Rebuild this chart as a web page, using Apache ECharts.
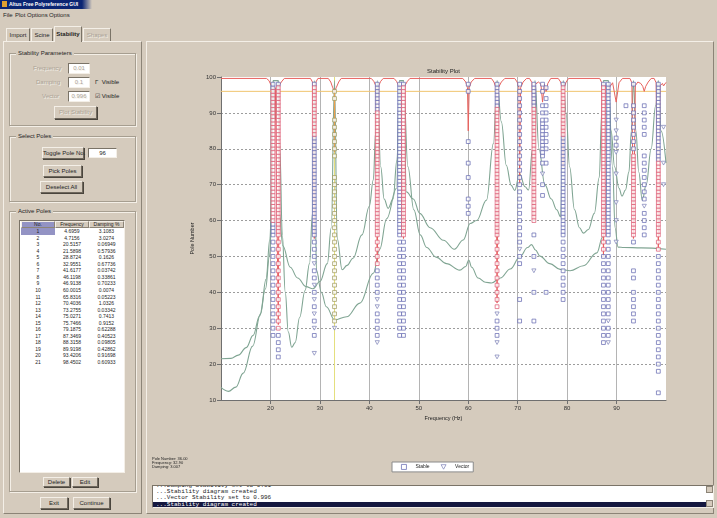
<!DOCTYPE html>
<html>
<head>
<meta charset="utf-8">
<title>Stability Plot</title>
<script src="https://cdn.jsdelivr.net/npm/echarts@6.0.0/dist/echarts.min.js"></script>
<style>
  html, body { margin: 0; padding: 0; }
  body { width: 717px; height: 518px; background: #d5cbbd; position: relative; overflow: hidden;
         font-family: "Liberation Sans", Arial, sans-serif; font-size: 6px; color: #1e1e1e; }
  .ab { position: absolute; white-space: nowrap; }
  .raised { position: absolute; box-sizing: border-box; border: 1px solid; border-color: #f4efe7 #8c8477 #8c8477 #f4efe7; }
  .etch { position: absolute; box-sizing: border-box; border: 1px solid #a69e90; box-shadow: inset 1px 1px 0 #f4efe7, 1px 1px 0 #f4efe7; }
  .etch .lbl { position: absolute; top: -4px; left: 6px; padding: 0 2px; background: #d5cbbd; line-height: 7px; }
  .btn { position: absolute; box-sizing: border-box; border: 1px solid; border-color: #f4efe7 #6f685d #6f685d #f4efe7;
         box-shadow: 1px 1px 0 #4a453d; text-align: center; white-space: nowrap; }
  .inp { position: absolute; box-sizing: border-box; background: #fff; border: 1px solid;
         border-color: #7a7367 #f4efe7 #f4efe7 #7a7367; text-align: center; }
  .dis { color: #aaa295; text-shadow: 1px 1px 0 #f4efe7; }
  .tab { position: absolute; box-sizing: border-box; border: 1px solid; border-bottom: none;
         border-color: #f4efe7 #7a7367 #7a7367 #f4efe7; text-align: center; }
  #chart { position: absolute; left: 0; top: 0; width: 717px; height: 518px; z-index: 2; }
  #log { position: absolute; left: 152px; top: 485px; width: 562px; height: 23px; background: #fff; z-index: 3;
         box-sizing: border-box; border: 1px solid; border-color: #7a7367 #f4efe7 #f4efe7 #7a7367; overflow: hidden;
         font-family: "Liberation Mono", "DejaVu Sans Mono", monospace; font-size: 6px; line-height: 6.2px; }
  #log div { padding-left: 3px; white-space: pre; }
  #log .sel { background: #15183f; color: #fff; }
  .row { position: absolute; font-size: 5px; line-height: 6.5px; text-align: center; }
</style>
</head>
<body>
<!-- window title + menu -->
<div class="ab" style="left:0;top:0;width:717px;height:9px;background:linear-gradient(90deg,#0b2573 0,#0b2573 82px,#d5cbbd 92px)"></div>
<div class="ab" style="left:2px;top:1px;width:5px;height:6px;background:#e0a030"></div>
<div class="ab" style="left:9px;top:1px;color:#fff;font-weight:bold;font-size:5px;line-height:7px">Altus Free Polyreference GUI</div>
<div class="ab" style="left:3px;top:12px;line-height:7px">File</div>
<div class="ab" style="left:15px;top:12px;line-height:7px">Plot Options</div>
<div class="ab" style="left:49px;top:12px;line-height:7px">Options</div>

<!-- tabs -->
<div class="tab" style="left:6px;top:28px;width:24px;height:13px;line-height:12px">Import</div>
<div class="tab" style="left:31px;top:28px;width:22px;height:13px;line-height:12px">Scine</div>
<div class="tab" style="left:54px;top:26px;width:28px;height:16px;line-height:14px;font-weight:bold;background:#d5cbbd;z-index:1">Stability</div>
<div class="tab dis" style="left:83px;top:28px;width:28px;height:13px;line-height:12px">Shapes</div>

<!-- panels -->
<div class="raised" style="left:3px;top:41px;width:139px;height:473px"></div>
<div class="raised" style="left:146px;top:41px;width:568px;height:473px"></div>

<!-- Stability Parameters -->
<div class="etch" style="left:9px;top:53px;width:127px;height:73px"><span class="lbl">Stability Parameters</span></div>
<div class="ab dis" style="left:33px;top:65px;line-height:7px">Frequency</div>
<div class="inp dis" style="left:68px;top:63px;width:22px;height:11px;line-height:9px">0.01</div>
<div class="ab dis" style="left:36px;top:79px;line-height:7px">Damping</div>
<div class="inp dis" style="left:68px;top:77px;width:22px;height:11px;line-height:9px">0.1</div>
<div class="ab" style="left:95px;top:79px;line-height:7px">&#915;&nbsp; Visible</div>
<div class="ab dis" style="left:42px;top:93px;line-height:7px">Vector</div>
<div class="inp dis" style="left:68px;top:91px;width:22px;height:11px;line-height:9px">0.996</div>
<div class="ab" style="left:95px;top:93px;line-height:7px">&#9745; Visible</div>
<div class="btn dis" style="left:54px;top:106px;width:43px;height:13px;line-height:11px">Plot Stability</div>

<!-- Select Poles -->
<div class="etch" style="left:9px;top:136px;width:127px;height:66px"><span class="lbl">Select Poles</span></div>
<div class="btn" style="left:42px;top:147px;width:42px;height:12px;line-height:10px">Toggle Pole No.</div>
<div class="inp" style="left:88px;top:148px;width:29px;height:10px;line-height:8px">96</div>
<div class="btn" style="left:43px;top:165px;width:39px;height:12px;line-height:10px">Pick Poles</div>
<div class="btn" style="left:40px;top:181px;width:43px;height:12px;line-height:10px">Deselect All</div>

<!-- Active Poles -->
<div class="etch" style="left:9px;top:211px;width:127px;height:281px"><span class="lbl">Active Poles</span></div>
<div class="ab" style="left:19px;top:220px;width:106px;height:253px;background:#fff;box-sizing:border-box;border:1px solid;border-color:#7a7367 #f4efe7 #f4efe7 #7a7367"></div>
<div id="poleRows"></div>
<div class="btn" style="left:43px;top:477px;width:27px;height:10px;line-height:8px">Delete</div>
<div class="btn" style="left:72px;top:477px;width:26px;height:10px;line-height:8px">Edit</div>
<div class="btn" style="left:40px;top:497px;width:28px;height:12px;line-height:10px">Exit</div>
<div class="btn" style="left:73px;top:497px;width:37px;height:12px;line-height:10px">Continue</div>

<div id="chart"></div>

<!-- message log -->
<div id="log">
  <div style="margin-top:-3px">...Damping Stability set to 0.01</div>
  <div>...Stability diagram created</div>
  <div>...Vector Stability set to 0.996</div>
  <div class="sel">...Stability diagram created</div>
</div>
<div class="ab" style="left:706px;top:486px;width:7px;height:7px;background:#d5cbbd;z-index:4;border:1px solid #8c8477;box-sizing:border-box"></div>
<div class="ab" style="left:706px;top:500px;width:7px;height:7px;background:#d5cbbd;z-index:4;border:1px solid #8c8477;box-sizing:border-box"></div>

<script>
// ---------------- values ----------------
// Active Poles table
var poleFreq = ['4.6959', '4.7156', '20.5157', '21.5898', '28.8724', '32.9551', '41.6177',
  '46.1198', '46.9138', '60.0015', '65.8316', '70.4036', '73.2755', '75.0271', '75.7466',
  '79.1875', '87.3469', '88.3158', '89.9198', '93.4206', '98.4502'];
var poleDamp = ['3.1083', '3.0274', '0.06949', '0.57936', '0.1626', '0.67736', '0.03742',
  '0.33861', '0.70233', '0.0074', '0.05223', '1.0326', '0.03342', '0.7413', '0.9152',
  '0.62288', '0.40523', '0.09805', '0.42862', '0.91698', '0.60933'];

// stabilization columns (Hz)
var colFreq = [20.52, 21.59, 28.87, 32.96, 41.6, 46.12, 46.91, 60.0, 65.83, 70.4, 73.28,
  75.03, 75.75, 79.19, 87.35, 88.32, 89.92, 91.9, 93.42, 95.6, 98.45, 99.5];
// stable model orders per column: single orders, or runs [from, to, step]
var stableMarks = [
  [[56, 98], [28, 54, 2]],
  [[56, 98], [22, 54, 2]],
  [[56, 98], [50, 54, 2], [44, 46, 2], 40, 36, 32, 28],
  [96, 94, [78, 88, 2], [32, 72, 2]],
  [[56, 98], [40, 54, 2], [28, 34, 2]],
  [[56, 98], [28, 54, 2]],
  [[56, 98], [28, 54, 2]],
  [98, 96, 82, 76, 72, 66, 64, 62],
  [[56, 98], [36, 54, 2], 32, 30, 28],
  [[54, 98, 2], 50, 48, 38, 32],
  [[60, 98], 56, 50, 40, 32],
  [98, 96, 92, 90, [78, 88], 76, 70, 67],
  [97, [80, 94, 2], 76, 40],
  [[56, 98], [38, 54, 2]],
  [[56, 98], [26, 54, 2]],
  [[56, 98], [34, 54, 2], 30, 28],
  [83, 81],
  [92],
  [98, [80, 92, 2], [56, 78], 54, 46, 44, [32, 40, 2]],
  [92, 90, 88, 86, 84, [66, 78, 2], 62, 60, 58, 56],
  [[56, 98], [18, 54, 2], 12],
  []
];
// band of orders drawn in red (stable in frequency and damping)
var redBand = [[60, 96], [30, 97], [84, 97], null, [48, 90], null, [56, 97], null, [36, 91], null,
  [60, 91], null, null, [84, 97], [52, 97], null, null, null, [56, 78], null, [52, 76], null];
// vector-stable orders (triangles)
var vectorMarks = [[], [], [48, 42, 38, 34, 30, 23], [30], [38, 36, 26], [], [], [],
  [34, 26, 22], [52], [46], [73], [], [], [], [32, 26], [88, 85, 79, 73, 65, 60, 54], [], [],
  [64], [], [86, 76, 70]];
var selCol = 3;
var selSpan = [79, 96];
var refLevel = 96;

// red indicator curve
var redCurve = [
  [10, 99.6], [19.2, 99.6], [19.7, 99], [20.1, 97.8], [20.5, 97.2], [21.0, 97], [21.4, 97.4], [21.59, 31], [21.8, 97.6], [22.2, 98.6], [22.8, 99.6],
  [28.1, 99.6], [28.5, 98.6], [28.87, 55], [29.2, 98.6], [29.6, 99.6],
  [31.7, 99.6], [32.2, 98.6], [32.6, 97], [32.96, 96], [33.3, 97], [33.8, 98.6], [34.3, 99.6],
  [40.4, 99.6], [40.9, 98.8], [41.3, 97.6], [41.6, 48], [41.9, 97.6], [42.3, 98.8], [42.8, 99.6],
  [45.0, 99.6], [45.5, 98.8], [45.9, 97.6], [46.3, 97], [46.7, 97.4], [46.91, 55], [47.2, 97.6], [47.7, 98.8], [48.2, 99.6],
  [58.9, 99.6], [59.5, 98.6], [59.85, 97], [60.0, 85], [60.2, 97], [60.6, 98.6], [61.3, 99.6],
  [64.7, 99.6], [65.2, 98.6], [65.6, 97], [65.83, 37], [66.1, 97], [66.7, 98.6], [67.4, 99.6],
  [69.4, 99.6], [69.9, 98.6], [70.25, 97], [70.4, 70], [70.6, 97], [71.1, 98.6], [71.8, 99.6],
  [72.4, 99.6], [72.9, 98.4], [73.28, 60.5], [73.6, 98], [74.2, 98.6], [74.7, 98], [75.03, 93], [75.4, 98], [75.75, 96], [76.1, 98.2], [76.7, 99.6],
  [78.2, 99.6], [78.7, 98.6], [79.0, 97], [79.19, 75], [79.4, 97], [79.8, 98.6], [80.3, 99.6],
  [86.6, 99.6], [87.0, 98.4], [87.35, 50], [87.7, 97.6], [88.0, 97.2], [88.32, 96], [88.7, 97.4], [89.2, 98.4], [89.92, 93], [90.5, 98.4], [91.2, 99.6],
  [92.7, 99.6], [93.1, 98.4], [93.42, 55], [93.8, 97.6], [94.3, 98.6], [94.9, 98.2], [95.3, 97.4], [95.6, 96], [95.9, 97.4], [96.4, 98.6], [97.0, 99.6],
  [97.6, 99.6], [98.0, 98.4], [98.45, 52], [98.8, 97.6], [99.3, 98.2], [99.5, 97.5], [100, 98.5]
];

// green indicator curves
var greenCurve1 = [
  [10, 13.5], [11.5, 12.4], [13, 13.6], [14.5, 17.5], [16.4, 25], [18, 34], [19.1, 43.6], [19.9, 55], [20.3, 70], [20.52, 99],
  [21.0, 88], [21.59, 99], [21.9, 80], [22.4, 56], [23, 40], [23.6, 29], [24.3, 24.7], [25, 26], [25.9, 33], [27, 40.5], [27.9, 48], [28.5, 62], [28.87, 99],
  [29.1, 60], [29.3, 46.2], [30.3, 40], [31.3, 36], [33, 32.3], [35.4, 33.2], [38.1, 37], [40.8, 45.3], [42.1, 52], [43.5, 60.5], [45.5, 69], [46.12, 99],
  [46.91, 99], [47.5, 68], [48.9, 66], [50.2, 62], [52.3, 58], [55, 54.5], [57.2, 52], [59, 54.6], [60.4, 59.2], [61.7, 60], [63.7, 65.7], [65.1, 81.5], [65.83, 99],
  [66.7, 87.5], [67.7, 75.4], [68.7, 69.8], [69.4, 68.4], [70.4, 73], [71.5, 69.4], [72.2, 68.5], [73, 80], [73.5, 99],
  [74.3, 80], [75.5, 70], [76.8, 66], [77.9, 63], [78.7, 61], [79.19, 99],
  [79.8, 90], [80.5, 75], [81.5, 63], [82.5, 58], [83.3, 56.5], [84.3, 57.5], [85.5, 62], [86.5, 72], [87.0, 90], [87.35, 99],
  [88.32, 99], [88.9, 85], [89.6, 75], [90.5, 69], [91.1, 66.8], [91.8, 68.5], [92.5, 73.5], [93.0, 85], [93.42, 99],
  [93.9, 85], [94.5, 73.5], [95.2, 65.6], [96.0, 70], [97.0, 80], [97.9, 92], [98.45, 99], [99.0, 85], [100, 76]
];
var greenCurve2 = [
  [10, 21.5], [12, 21.6], [13.5, 22.5], [15.1, 24.6], [16.5, 28], [17.8, 33.4], [19, 41], [19.8, 50], [20.3, 62], [20.52, 99],
  [21.59, 99], [21.8, 62], [22.5, 53], [24, 47], [25.5, 44], [27.2, 41.6], [28.6, 41], [30, 43], [31.5, 48], [32.3, 58], [32.96, 99],
  [33.5, 55], [34.5, 46.3], [35.5, 47.5], [36.7, 49.5], [38.5, 56], [40, 64], [40.8, 71.3], [41.3, 85], [41.6, 99],
  [42.3, 75], [43, 66], [43.8, 63.4], [44.8, 66], [45.6, 77], [46.12, 99],
  [46.91, 99], [47.8, 75], [49, 63], [50.3, 56], [51.6, 52.5], [53.5, 49.8], [55.6, 48], [58.3, 46.2], [59.5, 47.2], [60.1, 49], [60.7, 47],
  [62, 44], [63.5, 42.8], [64.7, 42.6], [66.5, 44], [68.5, 46.5], [70.5, 50], [72, 52.5], [72.8, 53.3], [73.6, 51.8], [74.5, 50.1],
  [76.5, 48], [78.6, 46.4], [80.6, 46], [83.3, 47.4], [86, 51], [87.2, 55.5], [87.8, 62], [88.32, 99],
  [89.2, 75], [89.7, 58], [90.3, 52.6], [91.5, 52.5], [95, 52.4], [100, 52]
];

// ---------------- build point lists ----------------
function expand(list) {
  var out = [];
  list.forEach(function (m) {
    if (typeof m === 'number') { out.push(m); return; }
    var step = m[2] || 1;
    for (var o = m[0]; o <= m[1]; o += step) out.push(o);
  });
  return out;
}

var stablePts = [], redPts = [], selPts = [], vectorPts = [];
colFreq.forEach(function (f, i) {
  var band = redBand[i];
  expand(stableMarks[i]).forEach(function (o) {
    if (i === selCol) selPts.push([f, o]);
    else if (band && o >= band[0] && o <= band[1]) redPts.push([f, o]);
    else stablePts.push([f, o]);
  });
  vectorMarks[i].forEach(function (o) { vectorPts.push([f, o]); });
});
var selFreq = colFreq[selCol];

// ---------------- pole table ----------------
var rowsDiv = document.getElementById('poleRows');
function cell(x, y, w, h, txt, style) {
  var d = document.createElement('div');
  d.className = 'row';
  d.style.cssText = 'left:' + x + 'px;top:' + y + 'px;width:' + w + 'px;height:' + h + 'px;' + (style || '');
  d.textContent = txt;
  rowsDiv.appendChild(d);
}
var hdr = 'background:#d5cbbd;box-sizing:border-box;border:1px solid;border-color:#f4efe7 #8c8477 #8c8477 #f4efe7;line-height:5px;';
cell(21, 221, 34, 7, 'No.', hdr + 'background:#9393c4;');
cell(55, 221, 34, 7, 'Frequency', hdr);
cell(89, 221, 35, 7, 'Damping %', hdr);
poleFreq.forEach(function (f, i) {
  var y = 228 + i * 6.55;
  cell(21, y, 34, 6.5, String(i + 1), i === 0 ? 'background:#9393c4;' : '');
  cell(55, y, 34, 6.5, f);
  cell(89, y, 35, 6.5, poleDamp[i]);
});

// ---------------- chart ----------------
var myChart = echarts.init(document.getElementById('chart'));
var markStyle = function (c) { return { color: '#fff', borderColor: c, borderWidth: 0.9 }; };
var downTri = 'path://M0,0L10,0L5,9Z';
var option = {
  animation: false,
  backgroundColor: 'transparent',
  textStyle: { fontFamily: 'Liberation Sans, Arial, sans-serif' },
  graphic: [
    { type: 'text', x: 443.5, y: 71, style: { text: 'Stability Plot', fontSize: 6, fill: '#222', align: 'center', verticalAlign: 'middle' } },
    { type: 'text', x: 152, y: 457, style: { text: 'Pole Number: 36.00', fontSize: 4, fill: '#222' } },
    { type: 'text', x: 152, y: 461, style: { text: 'Frequency: 32.90', fontSize: 4, fill: '#222' } },
    { type: 'text', x: 152, y: 465, style: { text: 'Damping: 3.007', fontSize: 4, fill: '#222' } }
  ],
  legend: {
    data: [
      { name: 'Stable', icon: 'rect', itemStyle: markStyle('#6367b0') },
      { name: 'Vector', icon: downTri, itemStyle: markStyle('#7c80b6') }
    ],
    left: 392, top: 462,
    itemWidth: 5, itemHeight: 5, itemGap: 11,
    padding: [2, 4, 2, 9],
    backgroundColor: '#fff', borderColor: '#8a8a8a', borderWidth: 1,
    textStyle: { fontSize: 5, color: '#222', padding: [0, 0, 0, 4] }
  },
  grid: { left: 221, top: 77, width: 445, height: 323, show: true, backgroundColor: '#fff', borderWidth: 0 },
  xAxis: {
    type: 'value', min: 10, max: 100, interval: 10,
    name: 'Frequency (Hz)', nameLocation: 'middle', nameGap: 15,
    nameTextStyle: { fontSize: 5.5, color: '#222' },
    axisLine: { lineStyle: { color: '#6f6f6f' } },
    axisTick: { length: 4, lineStyle: { color: '#6f6f6f' } },
    axisLabel: { fontSize: 6, color: '#333', margin: 5, showMinLabel: false, showMaxLabel: false },
    splitLine: { show: true, showMinLine: false, showMaxLine: false, lineStyle: { color: '#b4b4b4', width: 1 } }
  },
  yAxis: {
    type: 'value', min: 10, max: 100, interval: 10,
    name: 'Pole Number', nameLocation: 'middle', nameGap: 20,
    nameTextStyle: { fontSize: 5.5, color: '#222' },
    axisLine: { show: true, lineStyle: { color: '#6f6f6f' } },
    axisTick: { show: true, length: 4, lineStyle: { color: '#6f6f6f' } },
    axisLabel: { fontSize: 6, color: '#333', margin: 5 },
    splitLine: { show: true, showMinLine: false, showMaxLine: false, lineStyle: { color: '#9c9c9c', type: [2, 2], width: 1 } }
  },
  series: [
    { name: 'selected', type: 'line', data: [[selFreq, 10], [selFreq, 100]], symbol: 'none',
      lineStyle: { color: '#e4df7c', width: 1 }, z: 2, silent: true },
    { name: 'level', type: 'line', data: [[10, refLevel], [100, refLevel]], symbol: 'none',
      lineStyle: { color: '#f0c46e', width: 1 }, z: 2, silent: true },
    { name: 'indicator 1', type: 'line', data: greenCurve1, symbol: 'none', smooth: 0.4, smoothMonotone: 'x',
      lineStyle: { color: '#80a593', width: 1.1 }, z: 3 },
    { name: 'indicator 2', type: 'line', data: greenCurve2, symbol: 'none', smooth: 0.4, smoothMonotone: 'x',
      lineStyle: { color: '#80a593', width: 1.1 }, z: 3 },
    { name: 'indicator red', type: 'line', data: redCurve, symbol: 'none',
      lineStyle: { color: '#e8625e', width: 1 }, z: 4 },
    { name: 'selected span', type: 'line', data: [[selFreq, selSpan[0]], [selFreq, selSpan[1]]], symbol: 'none',
      lineStyle: { color: '#f0a04c', width: 1.2 }, z: 4 },
    { name: 'Stable', type: 'scatter', data: stablePts, symbol: 'rect', symbolSize: 3.8,
      itemStyle: markStyle('#6367b0'), z: 5 },
    { name: 'Stable freq+damp', type: 'scatter', data: redPts, symbol: 'rect', symbolSize: 3.8,
      itemStyle: markStyle('#dc5670'), z: 6 },
    { name: 'Selected pole', type: 'scatter', data: selPts, symbol: 'rect', symbolSize: 3.8,
      itemStyle: markStyle('#9c9658'), z: 6 },
    { name: 'Vector', type: 'scatter', data: vectorPts, symbol: downTri, symbolSize: [4.2, 3.8],
      itemStyle: markStyle('#7c80b6'), z: 6 }
  ]
};
myChart.setOption(option);
</script>
</body>
</html>
